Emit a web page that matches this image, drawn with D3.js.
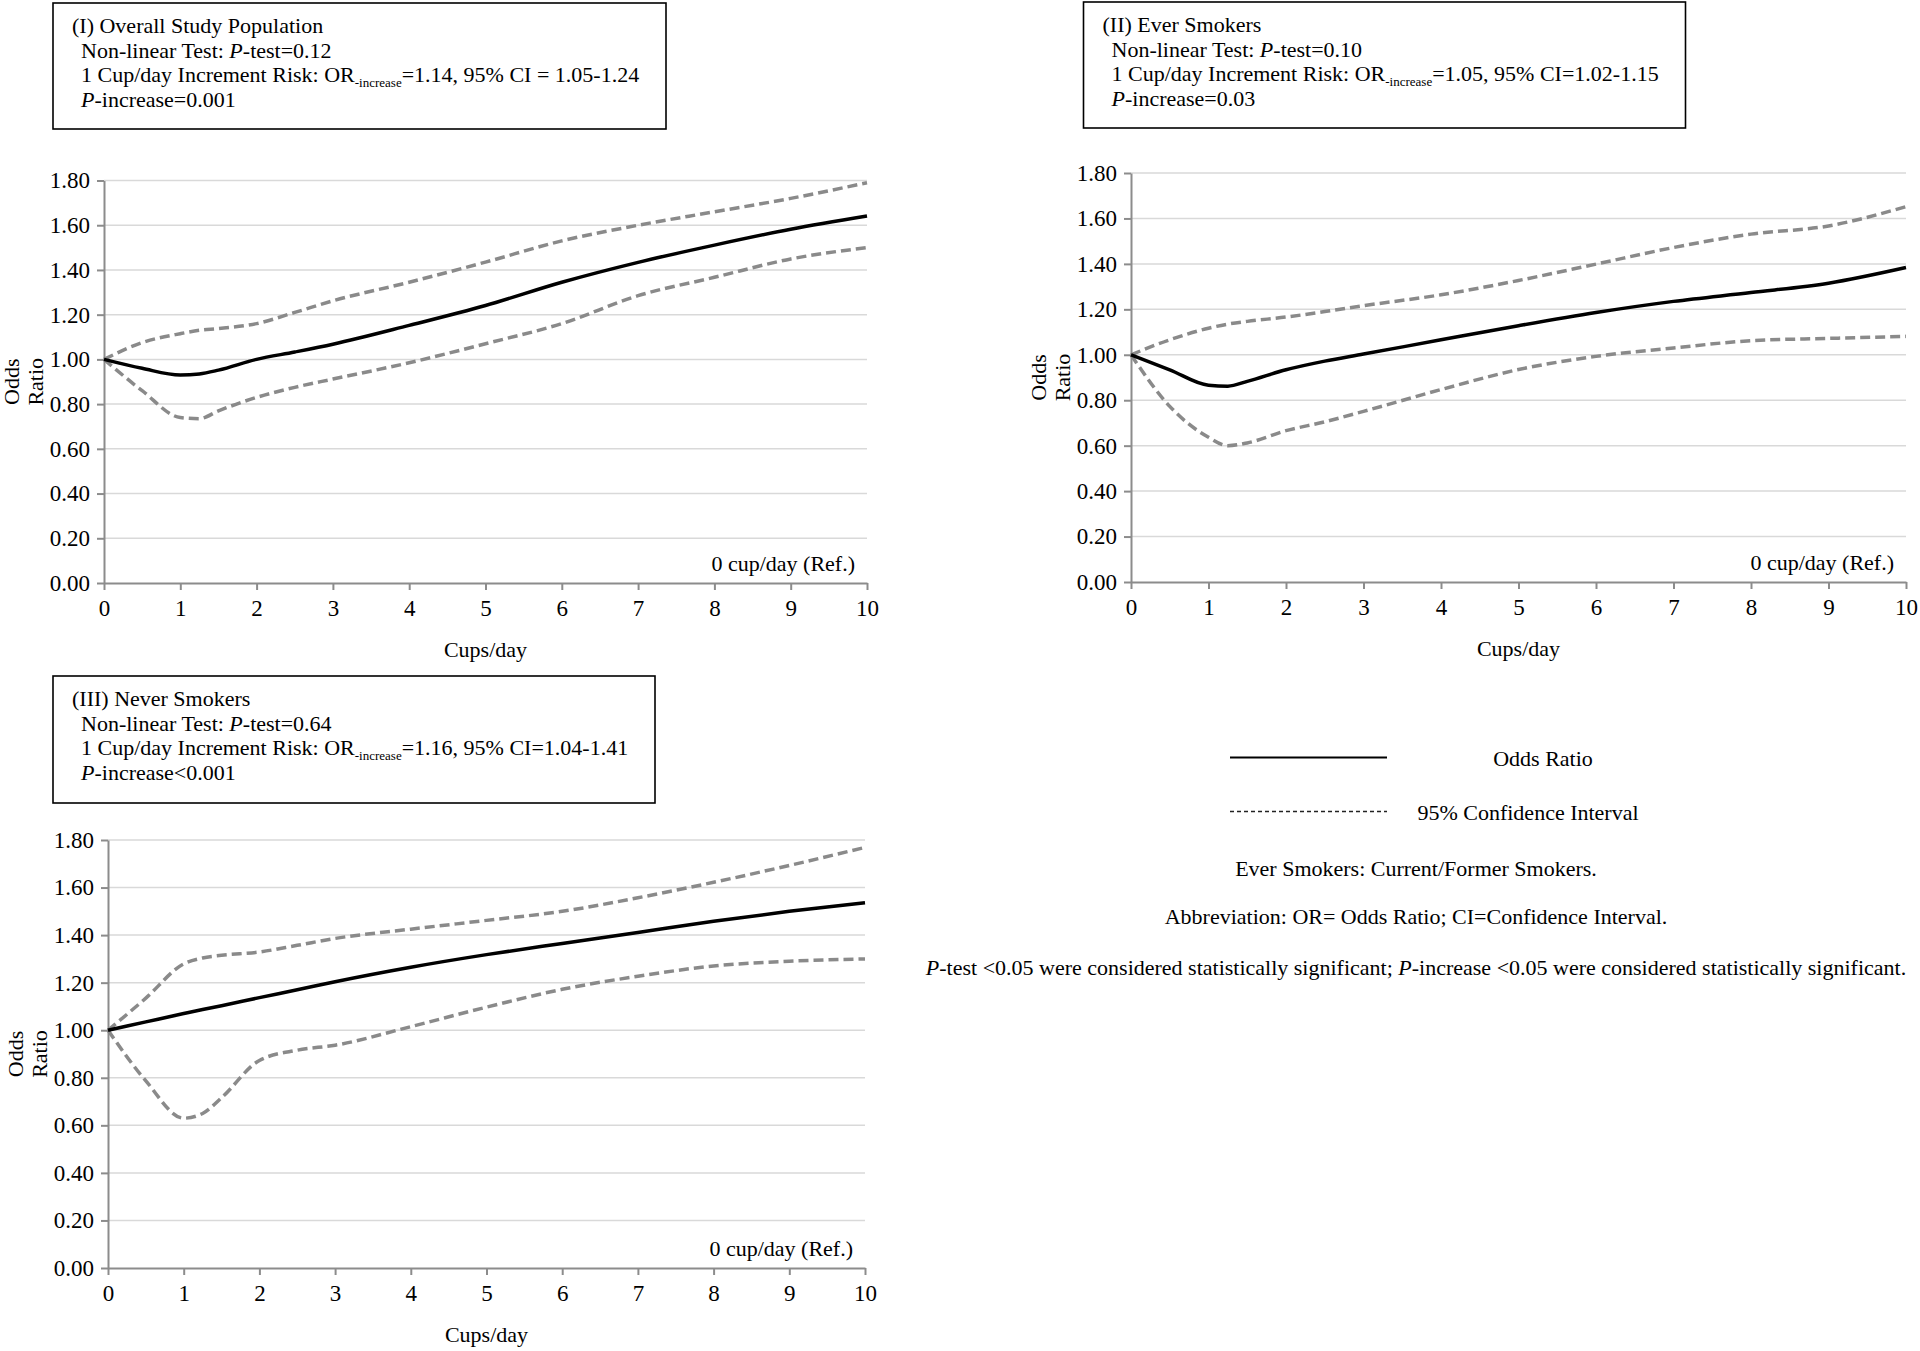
<!DOCTYPE html>
<html>
<head>
<meta charset="utf-8">
<script src="https://cdn.jsdelivr.net/npm/d3@7"></script>
<style>
  body { margin: 0; background: #fff; }
  svg { display: block; font-family: 'Liberation Serif', 'Times New Roman', serif; }
</style>
</head>
<body>
<div id="chart"></div>
<script>
// shared axis values
var cups = [0, 0.5, 1, 1.25, 1.5, 2, 2.5, 3, 4, 5, 6, 7, 8, 9, 10];
var xTicks = [0, 1, 2, 3, 4, 5, 6, 7, 8, 9, 10];
var yTicks = [0, 0.2, 0.4, 0.6, 0.8, 1.0, 1.2, 1.4, 1.6, 1.8];

// (I) overall study population
var overallOR    = [1.00, 0.96, 0.93, 0.935, 0.952, 1.00, 1.033, 1.068, 1.152, 1.241, 1.345, 1.434, 1.511, 1.582, 1.641];
var overallUpper = [1.00, 1.075, 1.115, 1.13, 1.138, 1.16, 1.21, 1.262, 1.345, 1.435, 1.53, 1.60, 1.66, 1.72, 1.79];
var overallLower = [1.00, 0.86, 0.74, 0.735, 0.77, 0.83, 0.875, 0.912, 0.985, 1.07, 1.16, 1.285, 1.367, 1.449, 1.50];

// (II) ever smokers
var everOR    = [1.00, 0.934, 0.866, 0.862, 0.883, 0.934, 0.972, 1.003, 1.066, 1.128, 1.186, 1.235, 1.274, 1.315, 1.384];
var everUpper = [1.00, 1.066, 1.117, 1.135, 1.147, 1.166, 1.19, 1.216, 1.264, 1.327, 1.399, 1.472, 1.531, 1.567, 1.652];
var everLower = [1.00, 0.773, 0.637, 0.600, 0.612, 0.666, 0.705, 0.751, 0.847, 0.935, 0.993, 1.03, 1.062, 1.072, 1.081];

// (III) never smokers
var neverOR    = [1.00, 1.035, 1.07, 1.087, 1.103, 1.137, 1.17, 1.204, 1.265, 1.318, 1.365, 1.411, 1.458, 1.50, 1.536];
var neverUpper = [1.00, 1.135, 1.279, 1.304, 1.315, 1.329, 1.357, 1.386, 1.425, 1.462, 1.50, 1.557, 1.622, 1.693, 1.769];
var neverLower = [1.00, 0.787, 0.63, 0.65, 0.716, 0.873, 0.916, 0.937, 1.015, 1.097, 1.172, 1.227, 1.27, 1.29, 1.30];

// box annotations: [text, style] segments, style: i = italic, s = subscript
var overallNotes = [
  [['(I) Overall Study Population']],
  [['Non-linear Test: '], ['P', 'i'], ['-test=0.12']],
  [['1 Cup/day Increment Risk: OR'], ['-increase', 's'], ['=1.14, 95% CI = 1.05-1.24']],
  [['P', 'i'], ['-increase=0.001']]
];
var everNotes = [
  [['(II) Ever Smokers']],
  [['Non-linear Test: '], ['P', 'i'], ['-test=0.10']],
  [['1 Cup/day Increment Risk: OR'], ['-increase', 's'], ['=1.05, 95% CI=1.02-1.15']],
  [['P', 'i'], ['-increase=0.03']]
];
var neverNotes = [
  [['(III) Never Smokers']],
  [['Non-linear Test: '], ['P', 'i'], ['-test=0.64']],
  [['1 Cup/day Increment Risk: OR'], ['-increase', 's'], ['=1.16, 95% CI=1.04-1.41']],
  [['P', 'i'], ['-increase<0.001']]
];

var legendLabels = ['Odds Ratio', '95% Confidence Interval'];
var footnotes = [
  [['Ever Smokers: Current/Former Smokers.']],
  [['Abbreviation: OR= Odds Ratio; CI=Confidence Interval.']],
  [['P', 'i'], ['-test <0.05 were considered statistically significant; '], ['P', 'i'], ['-increase <0.05 were considered statistically significant.']]
];

var panel1 = {
  left: 104, right: 867, top: 180.5, bottom: 583,
  box: { x: 53, y: 3, w: 613, h: 126 },
  notes: overallNotes,
  or: overallOR, upper: overallUpper, lower: overallLower
};
var panel2 = {
  left: 1131, right: 1906, top: 173, bottom: 582,
  box: { x: 1083.5, y: 2, w: 602, h: 126 },
  notes: everNotes,
  or: everOR, upper: everUpper, lower: everLower
};
var panel3 = {
  left: 108, right: 865, top: 840, bottom: 1268,
  box: { x: 53, y: 676, w: 602, h: 127 },
  notes: neverNotes,
  or: neverOR, upper: neverUpper, lower: neverLower
};

var W = 1920, H = 1351;
var FS = 22;
var axisColor = '#8c8c8c';
var ciColor = '#8a8a8a';

var svg = d3.select('#chart').append('svg')
  .attr('width', W)
  .attr('height', H)
  .attr('viewBox', '0 0 ' + W + ' ' + H);

svg.append('rect').attr('width', W).attr('height', H).attr('fill', '#fff');

// writes one line of mixed italic / subscript text
var richLine = function(text, segs) {
  var shifted = false;
  segs.forEach(function(s) {
    var ts = text.append('tspan').text(s[0]);
    if (s[1] === 'i') ts.attr('font-style', 'italic');
    if (s[1] === 's') {
      ts.attr('font-size', 13).attr('dy', 5);
      shifted = true;
    } else if (shifted) {
      ts.attr('dy', -5);
      shifted = false;
    }
  });
};

var drawPanel = function(config) {
  var x = d3.scaleLinear().domain([0, 10]).range([config.left, config.right]);
  var y = d3.scaleLinear().domain([0, 1.8]).range([config.bottom, config.top]);
  var g = svg.append('g');

  // annotation box
  g.append('rect')
    .attr('x', config.box.x).attr('y', config.box.y)
    .attr('width', config.box.w).attr('height', config.box.h)
    .attr('fill', 'none').attr('stroke', '#000').attr('stroke-width', 1.6);

  config.notes.forEach(function(segs, i) {
    var t = g.append('text')
      .attr('x', config.box.x + (i === 0 ? 19 : 28))
      .attr('y', config.box.y + 30 + i * 24.5)
      .attr('font-size', FS);
    richLine(t, segs);
  });

  // gridlines
  g.selectAll('line.grid').data(yTicks.slice(1)).enter().append('line')
    .attr('class', 'grid')
    .attr('x1', config.left).attr('x2', config.right)
    .attr('y1', function(d) { return y(d); })
    .attr('y2', function(d) { return y(d); })
    .attr('stroke', '#d9d9d9').attr('stroke-width', 1.5);

  var yAxis = g.append('g')
    .attr('transform', 'translate(' + config.left + ',0)')
    .call(d3.axisLeft(y).tickValues(yTicks).tickFormat(d3.format('.2f'))
      .tickSize(7).tickSizeOuter(0).tickPadding(7));

  var xAxis = g.append('g')
    .attr('transform', 'translate(0,' + config.bottom + ')')
    .call(d3.axisBottom(x).tickValues(xTicks).tickFormat(d3.format('d'))
      .tickSize(7).tickSizeOuter(0).tickPadding(10));

  [yAxis, xAxis].forEach(function(a) {
    a.attr('font-family', null).attr('font-size', 23);
    a.select('.domain').attr('stroke', axisColor).attr('stroke-width', 2);
    a.selectAll('.tick line').attr('stroke', axisColor).attr('stroke-width', 2);
    a.selectAll('.tick text').attr('fill', '#000');
  });

  // axis titles
  var midY = (config.top + config.bottom) / 2;
  g.append('text')
    .attr('transform', 'translate(' + (config.left - 85) + ',' + midY + ')rotate(-90)')
    .attr('text-anchor', 'middle').attr('font-size', FS)
    .text('Odds');
  g.append('text')
    .attr('transform', 'translate(' + (config.left - 61) + ',' + midY + ')rotate(-90)')
    .attr('text-anchor', 'middle').attr('font-size', FS)
    .text('Ratio');
  g.append('text')
    .attr('x', (config.left + config.right) / 2)
    .attr('y', config.bottom + 74)
    .attr('text-anchor', 'middle').attr('font-size', FS)
    .text('Cups/day');
  g.append('text')
    .attr('x', config.right - 12)
    .attr('y', config.bottom - 12)
    .attr('text-anchor', 'end').attr('font-size', FS)
    .text('0 cup/day (Ref.)');

  var line = d3.line()
    .x(function(d, i) { return x(cups[i]); })
    .y(function(d) { return y(d); })
    .curve(d3.curveMonotoneX);

  [config.upper, config.lower].forEach(function(series) {
    g.append('path')
      .attr('d', line(series))
      .attr('fill', 'none')
      .attr('stroke', ciColor)
      .attr('stroke-width', 3.5)
      .attr('stroke-dasharray', '10,5');
  });

  g.append('path')
    .attr('d', line(config.or))
    .attr('fill', 'none')
    .attr('stroke', '#000')
    .attr('stroke-width', 3.5);
};

[panel1, panel2, panel3].map(function(config) {
  drawPanel(config);
});

// legend
var legend = svg.append('g');
legend.append('line')
  .attr('x1', 1230).attr('x2', 1387).attr('y1', 757.5).attr('y2', 757.5)
  .attr('stroke', '#000').attr('stroke-width', 2);
legend.append('line')
  .attr('x1', 1230).attr('x2', 1387).attr('y1', 811.5).attr('y2', 811.5)
  .attr('stroke', '#222').attr('stroke-width', 1.3).attr('stroke-dasharray', '4,3');
legend.append('text')
  .attr('x', 1543).attr('y', 766).attr('text-anchor', 'middle').attr('font-size', FS)
  .text(legendLabels[0]);
legend.append('text')
  .attr('x', 1528).attr('y', 820).attr('text-anchor', 'middle').attr('font-size', FS)
  .text(legendLabels[1]);

var noteY = [876, 924, 975];
footnotes.forEach(function(segs, i) {
  var t = svg.append('text')
    .attr('x', 1416).attr('y', noteY[i])
    .attr('text-anchor', 'middle').attr('font-size', FS);
  richLine(t, segs);
});
</script>
</body>
</html>
